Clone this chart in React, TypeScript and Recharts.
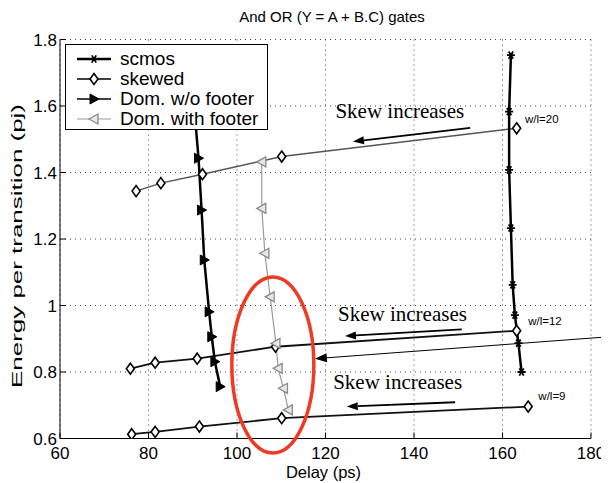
import React from 'react';
import {
  LineChart,
  Line,
  XAxis,
  YAxis,
  CartesianGrid,
  Legend,
  ReferenceLine,
  ReferenceDot,
  Label,
} from 'recharts';

const SANS = '"Liberation Sans", Arial, Helvetica, sans-serif';
const SERIF = '"Liberation Serif", "Times New Roman", serif';

const xTicks = [60, 80, 100, 120, 140, 160, 180];
const yTicks = [0.6, 0.8, 1, 1.2, 1.4, 1.6, 1.8];

// scmos
const scmosDelay = [161.9, 161.5, 161.5, 161.9, 162.3, 162.8, 163.6, 164.3];
const scmosEnergy = [1.753, 1.583, 1.408, 1.233, 1.062, 0.971, 0.887, 0.8];

// domino without footer (top point sits behind the legend)
const domDelay = [90.3, 91.3, 92.0, 92.6, 93.7, 94.3, 95.0, 96.2];
const domEnergy = [1.6, 1.443, 1.287, 1.137, 0.981, 0.906, 0.831, 0.756];

// domino with footer
const domFootDelay = [105.6, 105.6, 106.3, 107.5, 108.8, 109.3, 110.5, 111.6];
const domFootEnergy = [1.432, 1.292, 1.157, 1.026, 0.886, 0.811, 0.751, 0.686];

// skewed, one curve per w/l
const skew20Delay = [77.2, 82.8, 92.2, 110.1, 163.2];
const skew20Energy = [1.344, 1.368, 1.395, 1.448, 1.533];
const skew12Delay = [75.9, 81.5, 91.0, 108.7, 163.2];
const skew12Energy = [0.81, 0.828, 0.84, 0.876, 0.924];
const skew9Delay = [76.2, 81.5, 91.5, 110.1, 165.8];
const skew9Energy = [0.613, 0.62, 0.636, 0.661, 0.696];

// annotations
const noteText = ['Skew increases', 'Skew increases', 'Skew increases'];
const noteDelay = [136.8, 137.4, 136.3];
const noteEnergy = [1.563, 0.954, 0.748];
const arrowFromDelay = [152.7, 150.8, 149.3];
const arrowFromEnergy = [1.534, 0.928, 0.709];
const arrowToDelay = [126.2, 124.4, 124.8];
const arrowToEnergy = [1.493, 0.908, 0.696];
const wlText = ['w/l=20', 'w/l=12', 'w/l=9'];
const wlDelay = [165.1, 165.8, 168.1];
const wlEnergy = [1.548, 0.941, 0.716];
const pointerFrom = { delay: 184.1, energy: 0.906 };
const pointerTo = { delay: 117.6, energy: 0.84 };
const circled = { delay: 108.1, energy: 0.821 };

const legendNames = ['scmos', 'skewed', 'Dom. w/o footer', 'Dom. with footer'];

const toPoints = (xs: number[], ys: number[]) => xs.map((x, i) => ({ delay: x, energy: ys[i] }));

const Star = ({ cx, cy }: any) => (
  <g stroke="#000" strokeWidth={1.8}>
    <line x1={cx - 4} y1={cy} x2={cx + 4} y2={cy} />
    <line x1={cx - 2.2} y1={cy - 3.6} x2={cx + 2.2} y2={cy + 3.6} />
    <line x1={cx - 2.2} y1={cy + 3.6} x2={cx + 2.2} y2={cy - 3.6} />
  </g>
);
const Diamond = ({ cx, cy }: any) => (
  <polygon
    points={`${cx},${cy - 5.5} ${cx + 4},${cy} ${cx},${cy + 5.5} ${cx - 4},${cy}`}
    fill="#fff"
    stroke="#000"
    strokeWidth={1.6}
  />
);
const TriRight = ({ cx, cy }: any) => (
  <polygon points={`${cx - 4},${cy - 5} ${cx + 5},${cy} ${cx - 4},${cy + 5}`} fill="#000" stroke="#000" />
);
const TriLeft = ({ cx, cy }: any) => (
  <polygon
    points={`${cx + 4},${cy - 5} ${cx - 5},${cy} ${cx + 4},${cy + 5}`}
    fill="#e8e8e8"
    stroke="#8a8a8a"
    strokeWidth={1.3}
  />
);

const dotOf = (M: any) => (p: any) => <M key={p.index} cx={p.cx} cy={p.cy} />;

const Arrow = (p: any) => {
  const { x1, y1, x2, y2 } = p;
  const thin = p.thin;
  const a = Math.atan2(y2 - y1, x2 - x1);
  const L = thin ? 12 : 11;
  const w = thin ? 4.5 : 4;
  const bx = x2 - L * Math.cos(a);
  const by = y2 - L * Math.sin(a);
  const px = -Math.sin(a) * w;
  const py = Math.cos(a) * w;
  return (
    <g>
      <line x1={x1} y1={y1} x2={bx} y2={by} stroke="#000" strokeWidth={thin ? 1 : 1.8} />
      <polygon points={`${x2},${y2} ${bx + px},${by + py} ${bx - px},${by - py}`} fill="#000" />
    </g>
  );
};

const BottomTick = (p: any) => (
  <g>
    <line x1={p.x} y1={p.y} x2={p.x} y2={p.y - 6} stroke="#000" />
    <text x={p.x} y={p.y + 20} textAnchor="middle" fontSize={17} fontFamily={SANS} fill="#000">
      {p.payload.value}
    </text>
  </g>
);
const TopTick = (p: any) => <line x1={p.x} y1={p.y} x2={p.x} y2={p.y + 6} stroke="#000" />;
const LeftTick = (p: any) => (
  <g>
    <line x1={p.x} y1={p.y} x2={p.x + 6} y2={p.y} stroke="#000" />
    <text x={p.x - 3} y={p.y + 6} textAnchor="end" fontSize={17} fontFamily={SANS} fill="#000">
      {String(p.payload.value)}
    </text>
  </g>
);
const RightTick = (p: any) => <line x1={p.x} y1={p.y} x2={p.x - 6} y2={p.y} stroke="#000" />;

const legendIcons = [
  <g key="a">
    <line x1={3} y1={10} x2={37} y2={10} stroke="#000" strokeWidth={2.5} />
    <Star cx={20} cy={10} />
  </g>,
  <g key="b">
    <line x1={3} y1={10} x2={37} y2={10} stroke="#000" strokeWidth={1.6} />
    <Diamond cx={20} cy={10} />
  </g>,
  <g key="c">
    <line x1={3} y1={10} x2={37} y2={10} stroke="#000" strokeWidth={1.6} />
    <TriRight cx={20} cy={10} />
  </g>,
  <g key="d">
    <line x1={3} y1={10} x2={37} y2={10} stroke="#9a9a9a" strokeWidth={1.2} />
    <TriLeft cx={20} cy={10} />
  </g>,
];

const LegendBox = () => (
  <div
    style={{
      width: 203,
      height: 86,
      boxSizing: 'border-box',
      border: '1px solid #000',
      background: '#fff',
      paddingTop: 4,
      fontFamily: SANS,
      fontSize: 19,
      lineHeight: '20px',
      color: '#000',
    }}
  >
    {legendNames.map((n, i) => (
      <div key={n} style={{ display: 'flex', alignItems: 'center', height: 20 }}>
        <svg width={40} height={20} style={{ marginLeft: 8, marginRight: 6 }}>
          {legendIcons[i]}
        </svg>
        <span>{n}</span>
      </div>
    ))}
  </div>
);

export default function App() {
  return (
    <div style={{ position: 'relative', width: 601, height: 475 }}>
      <div
        style={{
          position: 'absolute',
          top: 1,
          left: 24,
          width: 600,
          textAlign: 'center',
          fontFamily: SANS,
          fontSize: 15,
          lineHeight: '16px',
          zIndex: 2,
        }}
      >
        And OR (Y = A + B.C) gates
      </div>
      <LineChart width={601} height={475} margin={{ top: 31.5, right: 18, bottom: 0, left: 0 }}>
        <CartesianGrid stroke="#444" strokeDasharray="1 4" />
        <XAxis
          dataKey="delay"
          type="number"
          domain={[60, 180]}
          ticks={xTicks}
          interval={0}
          allowDataOverflow
          height={44.5}
          tickSize={0}
          tickMargin={0}
          tickLine={false}
          axisLine={{ stroke: '#000' }}
          tick={BottomTick}
        >
          <Label
            content={(p: any) => (
              <text
                x={p.viewBox.x + p.viewBox.width / 2 - 2}
                y={p.viewBox.y + 39}
                textAnchor="middle"
                fontSize={16.5}
                fontFamily={SANS}
                fill="#000"
              >
                Delay (ps)
              </text>
            )}
          />
        </XAxis>
        <XAxis
          xAxisId="top"
          orientation="top"
          dataKey="delay"
          type="number"
          domain={[60, 180]}
          ticks={xTicks}
          interval={0}
          height={0}
          tickSize={0}
          tickMargin={0}
          tickLine={false}
          axisLine={{ stroke: '#000' }}
          tick={TopTick}
        />
        <YAxis
          type="number"
          domain={[0.6, 1.8]}
          ticks={yTicks}
          interval={0}
          allowDataOverflow
          width={52}
          tickSize={0}
          tickMargin={0}
          tickLine={false}
          axisLine={{ stroke: '#000' }}
          tick={LeftTick}
        >
          <Label
            content={() => (
              <text
                transform="translate(14, 238) rotate(-90)"
                textAnchor="middle"
                fontSize={15.5}
                fontFamily={SANS}
                fill="#000"
                textLength={284}
                lengthAdjust="spacingAndGlyphs"
              >
                Energy per transition (pj)
              </text>
            )}
          />
        </YAxis>
        <YAxis
          yAxisId="right"
          orientation="right"
          type="number"
          domain={[0.6, 1.8]}
          ticks={yTicks}
          interval={0}
          width={0}
          tickSize={0}
          tickMargin={0}
          tickLine={false}
          axisLine={{ stroke: '#000' }}
          tick={RightTick}
        />

        <Line
          data={toPoints(skew20Delay, skew20Energy)}
          dataKey="energy"
          stroke="#555"
          strokeWidth={1.5}
          dot={dotOf(Diamond)}
          activeDot={false}
          isAnimationActive={false}
        />
        <Line
          data={toPoints(skew12Delay, skew12Energy)}
          dataKey="energy"
          stroke="#111"
          strokeWidth={1.8}
          dot={dotOf(Diamond)}
          activeDot={false}
          isAnimationActive={false}
        />
        <Line
          data={toPoints(skew9Delay, skew9Energy)}
          dataKey="energy"
          stroke="#111"
          strokeWidth={1.8}
          dot={dotOf(Diamond)}
          activeDot={false}
          isAnimationActive={false}
        />
        <Line
          data={toPoints(domFootDelay, domFootEnergy)}
          dataKey="energy"
          stroke="#9a9a9a"
          strokeWidth={1.2}
          dot={dotOf(TriLeft)}
          activeDot={false}
          isAnimationActive={false}
        />
        <Line
          data={toPoints(domDelay, domEnergy)}
          dataKey="energy"
          stroke="#000"
          strokeWidth={2.5}
          dot={dotOf(TriRight)}
          activeDot={false}
          isAnimationActive={false}
        />
        <Line
          data={toPoints(scmosDelay, scmosEnergy)}
          dataKey="energy"
          stroke="#000"
          strokeWidth={2.5}
          dot={dotOf(Star)}
          activeDot={false}
          isAnimationActive={false}
        />

        {noteText.map((t, i) => (
          <ReferenceDot
            key={'n' + i}
            x={noteDelay[i]}
            y={noteEnergy[i]}
            r={0}
            ifOverflow="visible"
            shape={(p: any) => (
              <text x={p.cx} y={p.cy} textAnchor="middle" fontSize={21} fontFamily={SERIF} fill="#000">
                {t}
              </text>
            )}
          />
        ))}
        {arrowFromDelay.map((d, i) => (
          <ReferenceLine
            key={'a' + i}
            segment={[
              { x: d, y: arrowFromEnergy[i] },
              { x: arrowToDelay[i], y: arrowToEnergy[i] },
            ]}
            ifOverflow="visible"
            shape={(p: any) => <Arrow {...p} />}
          />
        ))}
        {wlText.map((t, i) => (
          <ReferenceDot
            key={'w' + i}
            x={wlDelay[i]}
            y={wlEnergy[i]}
            r={0}
            ifOverflow="visible"
            shape={(p: any) => (
              <text x={p.cx} y={p.cy} fontSize={11.5} fontFamily={SANS} fill="#000">
                {t}
              </text>
            )}
          />
        ))}
        <ReferenceLine
          segment={[
            { x: pointerFrom.delay, y: pointerFrom.energy },
            { x: pointerTo.delay, y: pointerTo.energy },
          ]}
          ifOverflow="visible"
          shape={(p: any) => <Arrow {...p} thin />}
        />
        <ReferenceDot
          x={circled.delay}
          y={circled.energy}
          r={0}
          ifOverflow="visible"
          shape={(p: any) => (
            <ellipse cx={p.cx} cy={p.cy} rx={41} ry={88} fill="none" stroke="#ee3b24" strokeWidth={3.5} />
          )}
        />

        <Legend
          layout="vertical"
          align="center"
          verticalAlign="middle"
          wrapperStyle={{ top: 36, left: 57, width: 203, height: 86 }}
          content={() => <LegendBox />}
        />
      </LineChart>
    </div>
  );
}
